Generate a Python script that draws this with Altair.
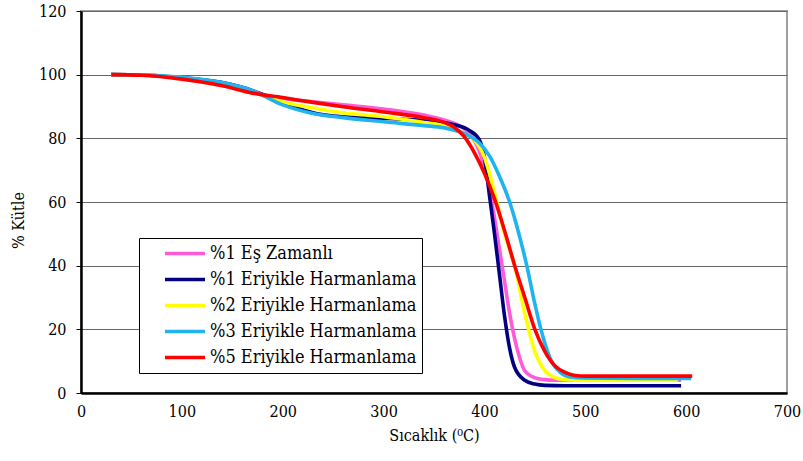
import altair as alt
import pandas as pd

series_names = ["%1 Eş Zamanlı", "%1 Eriyikle Harmanlama", "%2 Eriyikle Harmanlama",
                "%3 Eriyikle Harmanlama", "%5 Eriyikle Harmanlama"]
colors = ["#FF5AD9", "#000080", "#FFFF00", "#1FB4F0", "#FF0000"]

pink_x = [30, 60, 100, 140, 170, 200, 230, 260, 300, 340, 360, 375, 385, 395, 405, 410, 415, 420, 425, 430, 435, 440, 450, 460, 470, 500, 550, 595]
pink_y = [100, 99.9, 99, 97, 94.5, 92.5, 91.5, 90.5, 89.2, 87.3, 85.8, 84, 81.5, 76, 64, 55, 45, 35, 25, 17, 11, 7, 4.8, 4.2, 4, 4, 4, 4]

blue_x = [30, 60, 100, 140, 170, 190, 210, 230, 250, 280, 320, 350, 370, 385, 395, 400, 405, 410, 415, 420, 425, 430, 440, 450, 460, 480, 520, 560, 595]
blue_y = [100, 99.9, 99, 97.5, 95, 92.5, 90, 88, 87, 86.5, 86, 85.3, 84.3, 82.5, 79.5, 74, 62, 50, 37, 24, 14, 8, 4, 2.8, 2.4, 2.3, 2.3, 2.3, 2.3]

yellow_x = [30, 60, 100, 140, 170, 200, 230, 260, 300, 340, 360, 380, 390, 400, 410, 420, 430, 440, 450, 460, 470, 480, 500, 550, 592]
yellow_y = [100, 99.9, 99, 97, 94.5, 91.5, 89.5, 88, 86.8, 85, 84, 81.5, 79.5, 74, 63, 50, 40, 25, 13, 7, 4.8, 4.2, 4, 4, 4]

cyan_x = [30, 60, 100, 140, 170, 200, 230, 260, 300, 340, 360, 380, 395, 405, 415, 425, 435, 442, 450, 456, 465, 475, 485, 500, 550, 605]
cyan_y = [100, 99.9, 99.2, 97.5, 95, 90.5, 87.8, 86.5, 85.2, 84, 83.3, 81.5, 78.5, 74.5, 68, 60, 49, 40, 28, 20, 11, 6.5, 5, 4.7, 4.6, 4.6]

red_x = [30, 60, 100, 140, 170, 200, 230, 260, 300, 340, 360, 370, 380, 390, 400, 410, 420, 430, 440, 450, 460, 470, 480, 490, 500, 550, 606]
red_y = [100, 99.8, 98.6, 96.5, 94.2, 92.8, 91.3, 89.9, 88.3, 86.5, 85, 83.5, 80.5, 75.5, 69, 61, 51, 40, 30, 20, 13, 8.5, 6.5, 5.5, 5.3, 5.3, 5.3]

xs = [pink_x, blue_x, yellow_x, cyan_x, red_x]
ys = [pink_y, blue_y, yellow_y, cyan_y, red_y]

rows = []
for i, (name, xv, yv) in enumerate(zip(series_names, xs, ys)):
    for a, b in zip(xv, yv):
        rows.append({"seri": name, "x": a, "y": b, "k": i})
df = pd.DataFrame(rows)

font = "DejaVu Serif Condensed"

chart = alt.Chart(df).mark_line(interpolate="monotone", strokeWidth=3.6).encode(
    x=alt.X("x:Q", scale=alt.Scale(domain=[0, 700], nice=False),
            axis=alt.Axis(title="Sıcaklık (⁰C)", values=list(range(0, 701, 100)),
                          grid=False, ticks=False, labelPadding=10, titlePadding=8,
                          labelFlush=False, labelFont=font, titleFont=font)),
    y=alt.Y("y:Q", scale=alt.Scale(domain=[0, 120], nice=False),
            axis=alt.Axis(title="% Kütle", values=list(range(0, 121, 20)),
                          grid=True, tickSize=5, labelPadding=10, titlePadding=12,
                          labelFlush=False, titleY=209, labelFont=font, titleFont=font)),
    color=alt.Color("seri:N", scale=alt.Scale(domain=series_names, range=colors),
                    legend=alt.Legend(title=None, orient="none", legendX=58, legendY=227,
                                      fillColor="white", strokeColor="black",
                                      padding=5, symbolType="stroke", symbolStrokeWidth=3.6,
                                      symbolSize=1600, symbolOffset=19, labelOffset=3,
                                      clipHeight=21, rowPadding=5,
                                      labelFontSize=18, labelFont=font, labelColor="black",
                                      labelLimit=400)),
    detail="k:O",
).properties(
    width=706, height=382,
    autosize=alt.AutoSizeParams(type="none"),
    padding={"left": 81, "top": 11, "right": 16, "bottom": 68},
).configure_view(
    stroke="#A0A0A0", strokeWidth=2
).configure_axis(
    labelFontSize=16, titleFontSize=16,
    labelColor="black", titleColor="black", titleFontWeight="normal",
    domainColor="black", domainWidth=2.5, tickColor="black",
    gridColor="#666666", gridWidth=1.2,
)

chart.save("out.html", embed_options={"renderer": "svg", "actions": False})
